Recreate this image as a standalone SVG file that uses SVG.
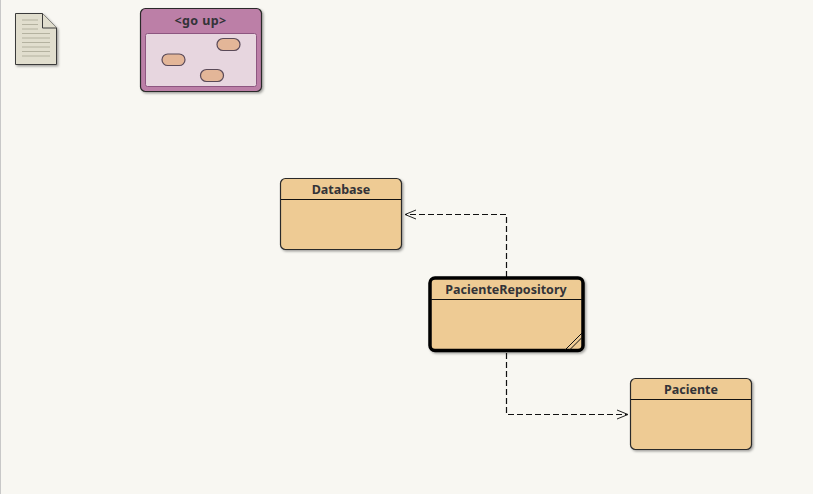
<svg xmlns="http://www.w3.org/2000/svg" width="813" height="494" viewBox="0 0 813 494">
<defs>
<filter id="sh" x="-10%" y="-10%" width="125%" height="125%"><feDropShadow dx="1.5" dy="1.5" stdDeviation="1.2" flood-color="#000" flood-opacity="0.35"/></filter>
<marker id="open" markerUnits="userSpaceOnUse" markerWidth="14" markerHeight="12" refX="12" refY="6" orient="auto"><path d="M1 1.500 L12 6 L1 10.500" fill="none" stroke="#222" stroke-width="1"/></marker>
</defs>
<style>
.box{fill:#eecb94;stroke:#2b2b2b;stroke-width:1.2;filter:url(#sh)}
.sep{stroke:#111;stroke-width:1.2}
.t{font-family:"Noto Sans","Open Sans","DejaVu Sans",sans-serif;font-size:12.500px;font-weight:700;fill:#333338;text-anchor:middle}
.conn{fill:none;stroke:#111;stroke-width:1.2;stroke-dasharray:6 3;}
.pill{fill:#e3b698;stroke:#5a4a58;stroke-width:1.2}
.ln{stroke:#b4b2a0;stroke-width:1}
</style>
<rect width="813" height="494" fill="#f8f7f2"/>
<path d="M0.5 0V494" stroke="#c8c8c8" stroke-width="1"/>
<g id="note">
<path d="M15.5 13.5H42.5L56.5 28V64.5H15.5Z" fill="#e1dece" stroke="#3a3a3a" stroke-width="1" filter="url(#sh)"/>
<path d="M42.5 13.5V28H56.5" fill="#e1dece" stroke="#3a3a3a" stroke-width="1"/>
<path class="ln" d="M22 20H38M22 24.500H38M22 29H38M22 33.500H50M22 38H50M22 42.500H50M22 47H50M22 51.500H50M22 56H50"/>
</g>
<g id="go-up">
<rect x="140.500" y="8.500" width="121" height="83" rx="5" fill="#bc7fa7" stroke="#2b2b2b" stroke-width="1.2" filter="url(#sh)"/>
<rect x="145.500" y="33.500" width="111" height="53" rx="2" fill="#e7d6df" stroke="#8d5680" stroke-width="1"/>
<text class="t" x="200.500" y="25" style="letter-spacing:0.400px">&lt;go up&gt;</text>
<rect class="pill" x="217" y="38.500" width="23" height="12" rx="6"/>
<rect class="pill" x="162" y="54" width="23" height="11.500" rx="5.750"/>
<rect class="pill" x="200.500" y="69.500" width="23" height="12" rx="6"/>
</g>
<g id="connectors">
<path class="conn" d="M506.500 277V214.500H405" marker-end="url(#open)"/>
<path class="conn" d="M506.500 353V414.500H628" marker-end="url(#open)"/>
</g>
<g id="Database">
<rect class="box" x="280.500" y="178.500" width="121" height="71" rx="5"/>
<path class="sep" d="M281 199.500H401"/>
<text class="t" x="341" y="194">Database</text>
</g>
<g id="PacienteRepository">
<rect class="box" x="430" y="278" width="153" height="72.500" rx="5" style="stroke:#000;stroke-width:3.500"/>
<path class="sep" d="M431 299.500H582"/>
<path d="M565 350L582 333M569.500 350L582 337.500" stroke="#111" stroke-width="1" fill="none"/>
<text class="t" x="506" y="294">PacienteRepository</text>
</g>
<g id="Paciente">
<rect class="box" x="630.500" y="378.500" width="121" height="71" rx="5"/>
<path class="sep" d="M631 399.500H751"/>
<text class="t" x="691" y="394">Paciente</text>
</g>
</svg>
